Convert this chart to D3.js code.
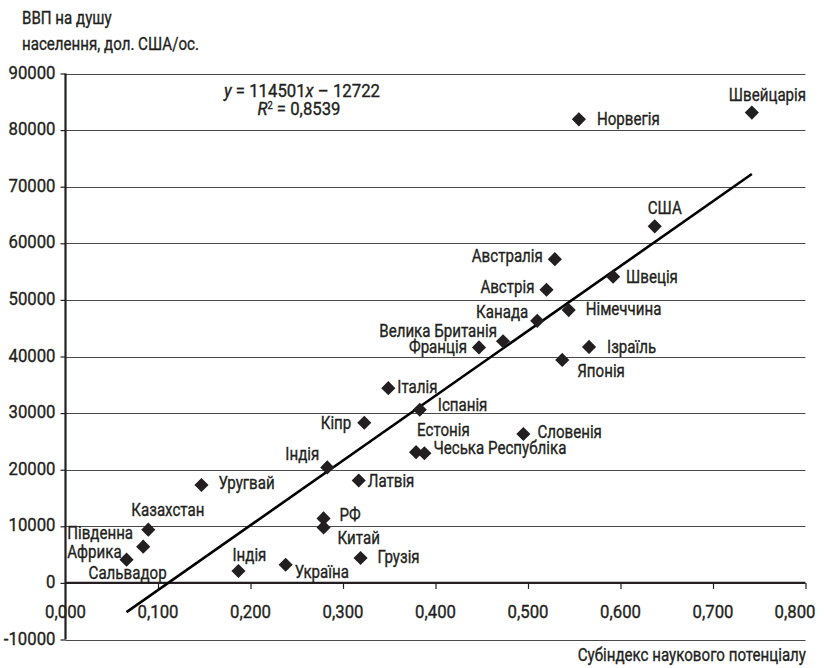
<!DOCTYPE html>
<html>
<head>
<meta charset="utf-8">
<script src="https://cdn.jsdelivr.net/npm/d3@7"></script>
<style>
  html, body { margin: 0; padding: 0; background: #fff; }
  svg { display: block; }
  text { font-family: Roboto, "Open Sans", sans-serif; font-size: 18px; font-weight: 400;
         fill: #231f20; stroke: #231f20; stroke-width: 0.35px; }
</style>
</head>
<body>
<svg id="chart" width="824" height="668"></svg>
<script>
// Countries and their values: science potential sub-index vs GDP per capita
const countries = ["Швейцарія", "Норвегія", "США", "Австралія", "Швеція", "Австрія", "Німеччина", "Канада",
  "Велика Британія", "Франція", "Ізраїль", "Японія", "Італія", "Іспанія", "Кіпр", "Естонія",
  "Чеська Республіка", "Словенія", "Індія", "Латвія", "РФ", "Китай", "Грузія", "Україна",
  "Уругвай", "Казахстан", "Південна Африка", "Сальвадор", "Індія"];
const subIndex = [0.742, 0.555, 0.637, 0.529, 0.592, 0.520, 0.544, 0.510,
  0.473, 0.447, 0.566, 0.537, 0.349, 0.383, 0.323, 0.379,
  0.388, 0.495, 0.283, 0.317, 0.279, 0.279, 0.319, 0.238,
  0.147, 0.0895, 0.084, 0.066, 0.187];
const gdpPerCapita = [83100, 81900, 63000, 57200, 54100, 51800, 48200, 46300,
  42700, 41600, 41700, 39400, 34400, 30600, 28300, 23100,
  22900, 26300, 20400, 18100, 11400, 9800, 4400, 3200,
  17300, 9400, 6400, 4100, 2100];

// Linear trend (as stated in the equation label)
const slope = 114501;
const intercept = -12722;
const rSquared = "0,8539";

// Axis ticks
const xTicks = [0, 0.1, 0.2, 0.3, 0.4, 0.5, 0.6, 0.7, 0.8];
const yTicks = [-10000, 0, 10000, 20000, 30000, 40000, 50000, 60000, 70000, 80000, 90000];

// Label placement relative to each marker: [dx, dy, anchor]
const labelOffsets = [
  [-23, -12, "start"], [18, 6, "start"], [-7, -12, "start"], [-12, 3, "end"], [13, 6, "start"],
  [-12, 3, "end"], [17, 5, "start"], [-9, -3, "end"], [-6, -4, "end"], [-12, 6, "end"],
  [18, 6, "start"], [15, 17, "start"], [9, 5, "start"], [18, 1, "start"], [-13, 6, "end"],
  [1, -16, "start"], [9, 1, "start"], [14, 4, "start"], [-8, -7, "end"], [9, 7, "start"],
  [16, 3, "start"], [14, 17, "start"], [17, 5, "start"], [9, 13, "start"], [17, 4, "start"],
  [-17, -14, "start"], [-76, -8, "start"], [-38, 19, "start"], [-6, -10, "start"]
];

const svg = d3.select("#chart");
const W = 824;
const x = d3.scaleLinear().domain([0, 0.8]).range([65.5, 805.5]);
const y = d3.scaleLinear().domain([-10000, 90000]).range([639.5, 73.5]);
const fmtX = v => d3.format(".3f")(v).replace(".", ",");
const fmtY = v => String(v);

// Condensed type: each text is drawn in a horizontally squeezed group
const squeeze = 0.84;
const squeezeDigits = 0.93;
function ctext(parent, px, py, anchor, k) {
  return parent.append("g")
    .attr("transform", `translate(${px},${py}) scale(${k || squeeze},1)`)
    .append("text").attr("text-anchor", anchor || "start");
}

// Horizontal gridlines
svg.append("g").selectAll("line").data(yTicks.filter(d => d !== 0)).join("line")
  .attr("x1", x(0)).attr("x2", x(0.8))
  .attr("y1", d => Math.round(y(d)) + 0.5).attr("y2", d => Math.round(y(d)) + 0.5)
  .attr("stroke", "#4a4a4a").attr("stroke-width", 1.2);

// Y axis: tick marks to the left, labels right-aligned
const yAxis = svg.append("g").attr("transform", `translate(${x(0)},0)`)
  .call(d3.axisLeft(y).tickValues(yTicks).tickSize(5).tickFormat(""));
yAxis.select(".domain").remove();
yAxis.selectAll(".tick line").attr("stroke", "#231f20").attr("stroke-width", 1.2);
const yLab = svg.append("g");
yTicks.forEach(v => ctext(yLab, x(0) - 10, y(v) + 5, "end", squeezeDigits).text(fmtY(v)));
svg.append("line").attr("x1", x(0)).attr("x2", x(0)).attr("y1", y(90000)).attr("y2", y(-10000))
  .attr("stroke", "#231f20").attr("stroke-width", 2.2);

// X axis on the zero line, labels set below the plot (kept inside the page)
const xAxisG = svg.append("g").attr("transform", `translate(0,${y(0)})`)
  .call(d3.axisBottom(x).tickValues(xTicks.slice(1)).tickSize(6).tickFormat(""));
xAxisG.select(".domain").remove();
xAxisG.selectAll(".tick line").attr("stroke", "#231f20").attr("stroke-width", 1.2);
svg.append("line").attr("x1", x(0)).attr("x2", x(0.8)).attr("y1", y(0)).attr("y2", y(0))
  .attr("stroke", "#231f20").attr("stroke-width", 2.2);
const xLab = svg.append("g");
xTicks.forEach(v => ctext(xLab, Math.min(x(v), W - 29), 618, "middle", squeezeDigits).text(fmtX(v)));

// Trend line across the data range
const xMin = d3.min(subIndex), xMax = d3.max(subIndex);
svg.append("line")
  .attr("x1", x(xMin)).attr("y1", y(slope * xMin + intercept))
  .attr("x2", x(xMax)).attr("y2", y(slope * xMax + intercept))
  .attr("stroke", "#000").attr("stroke-width", 2.6);

// Diamond markers
const diamond = d3.symbol().type(d3.symbolSquare).size(100);
svg.append("g").selectAll("path").data(countries.map((c, i) => i)).join("path")
  .attr("d", diamond)
  .attr("transform", i => `translate(${x(subIndex[i])},${y(gdpPerCapita[i])}) rotate(45)`)
  .attr("fill", "#231f20");

// Country labels
const labelG = svg.append("g");
countries.forEach((c, i) => {
  const [dx, dy, anchor] = labelOffsets[i];
  const t = ctext(labelG, x(subIndex[i]) + dx, y(gdpPerCapita[i]) + dy, anchor);
  const parts = c === "Південна Африка" ? ["Південна", "Африка"] : [c];
  parts.forEach((p, k) => t.append("tspan").attr("x", 0).attr("dy", k === 0 ? 0 : 19).text(p));
});

// Regression equation
const eq = ctext(svg, 302, 97, "middle", 0.93);
eq.append("tspan").style("font-style", "italic").text("y");
eq.append("tspan").text(" = " + slope);
eq.append("tspan").style("font-style", "italic").text("x");
eq.append("tspan").text(" \u2013 " + Math.abs(intercept));
const r2 = ctext(svg, 299, 115, "middle", 0.93);
r2.append("tspan").style("font-style", "italic").text("R");
r2.append("tspan").attr("dy", -6).style("font-size", "10px").text("2");
r2.append("tspan").attr("dy", 6).text(" = " + rSquared);

// Axis titles
ctext(svg, 22, 24, "start").text("ВВП на душу");
ctext(svg, 22, 50, "start").text("населення, дол. США/ос.");
ctext(svg, 806, 661, "end").text("Субіндекс наукового потенціалу");
</script>
</body>
</html>
